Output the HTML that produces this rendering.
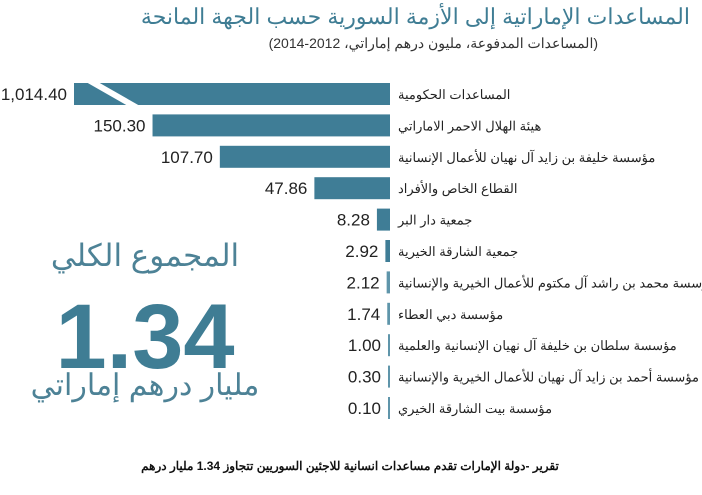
<!DOCTYPE html>
<html><head><meta charset="utf-8"><style>
body{margin:0;background:#fff;width:702px;height:490px;overflow:hidden;font-family:"Liberation Sans","Noto Sans CJK SC",sans-serif}
</style></head><body>
<svg width="702" height="490" viewBox="0 0 702 490">
<text x="690" y="24" text-anchor="start" font-size="22" fill="#3f7d94" direction="rtl">المساعدات الإماراتية إلى الأزمة السورية حسب الجهة المانحة</text>
<text x="598" y="48" text-anchor="start" font-size="14" fill="#333" direction="rtl">(المساعدات المدفوعة، مليون درهم إماراتي، 2012-2014)</text>
<g id="bars"></g>
<text x="145" y="266" text-anchor="middle" font-size="31" fill="#4d8296" direction="rtl">المجموع الكلي</text>
<text x="145" y="368" text-anchor="middle" font-size="92" font-weight="bold" fill="#3f7d94">1.34</text>
<text x="145" y="395" text-anchor="middle" font-size="30" fill="#4d8296" direction="rtl">مليار درهم إماراتي</text>
<text x="350" y="470" text-anchor="middle" font-size="12" font-weight="bold" fill="#111" direction="rtl">تقرير -دولة الإمارات تقدم مساعدات انسانية للاجئين السوريين تتجاوز 1.34 مليار درهم</text>
</svg>
<script>
const categories=["المساعدات الحكومية","هيئة الهلال الاحمر الاماراتي","مؤسسة خليفة بن زايد آل نهيان للأعمال الإنسانية","القطاع الخاص والأفراد","جمعية دار البر","جمعية الشارقة الخيرية","مؤسسة محمد بن راشد آل مكتوم للأعمال الخيرية والإنسانية","مؤسسة دبي العطاء","مؤسسة سلطان بن خليفة آل نهيان الإنسانية والعلمية","مؤسسة أحمد بن زايد آل نهيان للأعمال الخيرية والإنسانية","مؤسسة بيت الشارقة الخيري"];
const values=[1014.40,150.30,107.70,47.86,8.28,2.92,2.12,1.74,1.00,0.30,0.10];
const valueLabels=["1,014.40","150.30","107.70","47.86","8.28","2.92","2.12","1.74","1.00","0.30","0.10"];
const NS="http://www.w3.org/2000/svg";
const g=document.getElementById('bars');
const x0=390, scale=1.58, maxW=316, minW=2;
const yPos=i=>94+i*31.4;
function mk(t,a){const e=document.createElementNS(NS,t);for(const k in a)e.setAttribute(k,a[k]);g.appendChild(e);return e;}
values.forEach((v,i)=>{
  const cy=yPos(i);
  let w=Math.max(minW,v*scale); const broken=w>maxW; if(broken)w=maxW;
  const r=mk('rect',{x:x0-w,y:cy-11,width:w,height:22,fill:i<6?'#3f7d96':'#5f95aa'});
  
  
  if(broken){const b=mk('polygon',{points:`${x0-w+12},${cy-12} ${x0-w+24},${cy-12} ${x0-w+66},${cy+12} ${x0-w+54},${cy+12}`,fill:'#fff'});
    
    }
  const vt=mk('text',{x:x0-w-7,y:cy+6,'text-anchor':'end','font-size':17,fill:'#222'});vt.textContent=valueLabels[i];
  
  
  const lt=mk('text',{x:398,y:cy+5,'text-anchor':'end','font-size':13,fill:'#222',direction:'rtl'});lt.textContent=categories[i];
  
  
});
</script>
</body></html>
